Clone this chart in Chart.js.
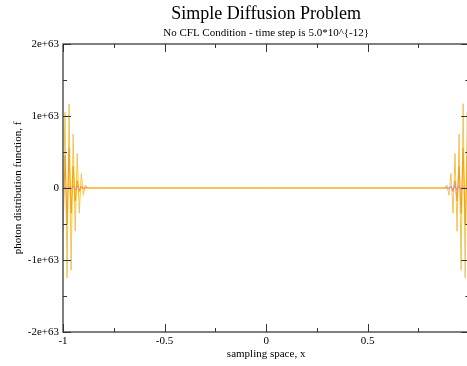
<!DOCTYPE html>
<html>
<head>
<meta charset="utf-8">
<script src="https://cdn.jsdelivr.net/npm/chart.js@4"></script>
<style>
  html, body { margin: 0; padding: 0; background: #fff; overflow: hidden; }
  #wrap { width: 475px; height: 366px; }
</style>
</head>
<body>
<div id="wrap"><canvas id="diffChart"></canvas></div>
<script>
// values are in units of 1e63
const UNIT = 1e63;
const xPoints = [
  -1, -0.99, -0.98, -0.97, -0.96, -0.95, -0.94, -0.93, -0.92, -0.91, -0.9, -0.89, -0.88,
  0,
  0.88, 0.89, 0.9, 0.91, 0.92, 0.93, 0.94, 0.95, 0.96, 0.97, 0.98, 0.99, 1
];
const yellowVals = [
  -0.3, 1.05, -1.25, 1.17, -1.14, 0.75, -0.6, 0.48, -0.35, 0.2, -0.1, 0.04, 0,
  0,
  0, 0.04, -0.1, 0.2, -0.35, 0.48, -0.6, 0.75, -1.14, 1.17, -1.25, 1.05, -0.3
];
const orangeVals = [
  -0.62, 0.45, -0.5, 0.55, -0.35, 0.3, -0.18, 0.1, -0.05, 0.02, 0, 0, 0,
  0,
  0, 0, 0, 0.02, -0.05, 0.1, -0.18, 0.3, -0.35, 0.55, -0.5, 0.45, -0.62
];
const pinkVals = [
  0, 0.01, -0.01, 0.02, -0.02, 0.03, -0.03, 0.03, -0.025, 0.02, -0.015, 0.01, 0,
  null,
  0, 0.01, -0.015, 0.02, -0.025, 0.03, -0.03, 0.03, -0.02, 0.02, -0.01, 0.01, 0
];
const yTickLabels = { "2": "2e+63", "1": "1e+63", "0": "0", "-1": "-1e+63", "-2": "-2e+63" };

const SERIF = "'Liberation Serif', 'DejaVu Serif', serif";

function toPoints(vals) {
  return xPoints.map((x, i) => ({ x: x, y: vals[i] === null ? null : vals[i] * UNIT }));
}

// frame, inward ticks, titles
const framePlugin = {
  id: "frame",
  afterDraw(chart) {
    const { ctx, chartArea: a, scales } = chart;
    const xs = scales.x, ys = scales.y;
    ctx.save();
    ctx.strokeStyle = "#555";
    ctx.lineWidth = 1.5;
    ctx.strokeRect(a.left, a.top, a.right - a.left, a.bottom - a.top);

    ctx.strokeStyle = "#333";
    ctx.lineWidth = 1;
    ctx.beginPath();
    for (let v = -1; v <= 1.0001; v += 0.25) {
      const px = Math.round(xs.getPixelForValue(v)) + 0.5;
      const len = Math.abs(v * 2 - Math.round(v * 2)) < 1e-6 ? 8 : 4;
      ctx.moveTo(px, a.bottom); ctx.lineTo(px, a.bottom - len);
      ctx.moveTo(px, a.top); ctx.lineTo(px, a.top + len);
    }
    for (let v = -2; v <= 2.0001; v += 0.5) {
      const py = Math.round(ys.getPixelForValue(v * UNIT)) + 0.5;
      const len = Math.abs(v - Math.round(v)) < 1e-6 ? 8 : 4;
      ctx.moveTo(a.left, py); ctx.lineTo(a.left + len, py);
      ctx.moveTo(a.right, py); ctx.lineTo(a.right - len, py);
    }
    ctx.stroke();

    const cx = (a.left + a.right) / 2;
    ctx.fillStyle = "#000";
    ctx.textAlign = "center";
    ctx.textBaseline = "middle";
    ctx.font = "18px " + SERIF;
    ctx.fillText("Simple Diffusion Problem", cx, 14);
    ctx.font = "11px " + SERIF;
    ctx.fillText("No CFL Condition - time step is 5.0*10^{-12}", cx, 33);
    ctx.restore();
  },
};

const chart = new Chart(document.getElementById("diffChart"), {
  type: "line",
  data: {
    datasets: [
      {
        label: "pink",
        data: toPoints(pinkVals),
        borderColor: "rgb(240, 130, 150)",
        borderWidth: 1,
        pointRadius: 0,
        spanGaps: false,
        order: 0,
      },
      {
        label: "orange",
        data: toPoints(orangeVals),
        borderColor: "rgb(236, 162, 30)",
        borderWidth: 1,
        pointRadius: 0,
        order: 1,
      },
      {
        label: "yellow",
        data: toPoints(yellowVals),
        borderColor: "rgb(242, 196, 80)",
        borderWidth: 1,
        pointRadius: 0,
        order: 2,
      },
    ],
  },
  options: {
    responsive: true,
    maintainAspectRatio: false,
    animation: false,
    layout: { padding: { top: 44, right: 4, left: 0, bottom: 0 } },
    plugins: {
      legend: { display: false },
      tooltip: { enabled: false },
    },
    scales: {
      x: {
        type: "linear",
        min: -1,
        max: 1,
        grid: { display: false, drawTicks: false },
        border: { display: false },
        ticks: {
          stepSize: 0.5,
          padding: 3,
          color: "#000",
          font: { family: SERIF, size: 11 },
          callback: (v) => String(v),
        },
        title: {
          display: true,
          text: "sampling space, x",
          color: "#000",
          padding: { top: 0, bottom: 5 },
          font: { family: SERIF, size: 11 },
        },
        afterFit(scale) { scale.height = 34; },
      },
      y: {
        min: -2 * UNIT,
        max: 2 * UNIT,
        grid: { display: false, drawTicks: false },
        border: { display: false },
        ticks: {
          stepSize: UNIT,
          padding: 4,
          color: "#000",
          font: { family: SERIF, size: 11 },
          callback: (v) => yTickLabels[String(Math.round(v / UNIT))],
        },
        title: {
          display: true,
          text: "photon distribution function, f",
          color: "#000",
          padding: { top: 12, bottom: 4 },
          font: { family: SERIF, size: 11 },
        },
        afterFit(scale) { scale.width = 63; },
      },
    },
  },
  plugins: [framePlugin],
});
</script>
</body>
</html>
